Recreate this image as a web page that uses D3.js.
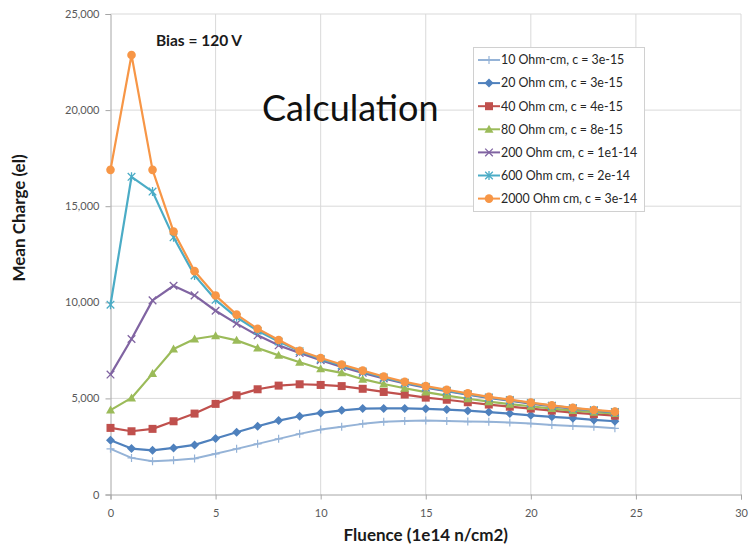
<!DOCTYPE html>
<html>
<head>
<meta charset="utf-8">
<script src="https://cdn.jsdelivr.net/npm/d3@7"></script>
<style>
  html, body { margin: 0; padding: 0; background: #fff; }
  svg { display: block; font-family: Lato, "Open Sans", sans-serif; }
</style>
</head>
<body>
<svg id="chart" width="749" height="547"></svg>
<script>
// Fluence steps (1e14 n/cm2)
const fluence = d3.range(0, 25);

const seriesNames = [
  "10 Ohm-cm, c = 3e-15",
  "20 Ohm cm, c = 3e-15",
  "40 Ohm cm, c = 4e-15",
  "80 Ohm cm, c = 8e-15",
  "200 Ohm cm, c = 1e1-14",
  "600 Ohm cm, c = 2e-14",
  "2000 Ohm cm, c = 3e-14"
];

// Mean charge (electrons) per fluence step
const q10 = [2375,1905,1730,1785,1870,2115,2375,2635,2895,3155,3380,3520,3675,3780,3830,3845,3830,3795,3780,3740,3690,3620,3570,3520,3445];
const q20 = [2820,2390,2300,2425,2580,2910,3240,3550,3845,4070,4245,4380,4470,4480,4480,4460,4420,4360,4290,4210,4120,4040,3970,3880,3810];
const q40 = [3465,3290,3415,3810,4210,4715,5160,5475,5665,5735,5700,5640,5500,5335,5200,5040,4930,4800,4680,4570,4470,4365,4260,4180,4100];
const q80 = [4390,5025,6290,7570,8090,8260,8020,7620,7240,6880,6540,6330,6000,5750,5530,5330,5145,4980,4830,4700,4590,4470,4365,4280,4210];
const q200 = [6240,8090,10100,10860,10360,9560,8890,8280,7760,7360,6990,6640,6330,6040,5780,5560,5370,5190,5020,4880,4730,4600,4470,4370,4270];
const q600 = [9875,16530,15760,13380,11400,10130,9220,8520,7960,7450,7050,6710,6400,6090,5820,5600,5400,5220,5050,4910,4760,4620,4490,4380,4290];
const q2000 = [16890,22870,16890,13680,11620,10350,9360,8620,8040,7480,7100,6760,6445,6140,5860,5640,5450,5260,5080,4940,4780,4640,4505,4400,4310];

const seriesValues = [q10, q20, q40, q80, q200, q600, q2000];
const seriesColors = ["#95b3d7", "#4f81bd", "#c0504d", "#9bbb59", "#8064a2", "#4bacc6", "#f79646"];
const seriesMarkers = ["plus", "diamond", "square", "triangle", "cross", "star", "circle"];

const xTicks = [0, 5, 10, 15, 20, 25, 30];
const yTicks = [0, 5000, 10000, 15000, 20000, 25000];

const svg = d3.select("#chart");
const plot = { left: 110.5, right: 741, top: 14, bottom: 494.5 };

const x = d3.scaleLinear().domain([0, 30]).range([plot.left, plot.right]);
const y = d3.scaleLinear().domain([0, 25000]).range([plot.bottom, plot.top]);

// Gridlines
const grid = svg.append("g");
grid.selectAll("line.h").data(yTicks.filter(d => d > 0)).join("line")
  .attr("x1", plot.left).attr("x2", plot.right)
  .attr("y1", d => y(d)).attr("y2", d => y(d))
  .attr("stroke", "#d9d9d9").attr("stroke-width", 1);
grid.selectAll("line.v").data(xTicks.filter(d => d > 0)).join("line")
  .attr("x1", d => x(d)).attr("x2", d => x(d))
  .attr("y1", plot.top).attr("y2", plot.bottom)
  .attr("stroke", "#d9d9d9").attr("stroke-width", 1);

// Axes
const fmt = d3.format(",");
const xAxis = svg.append("g").attr("transform", `translate(0,${plot.bottom})`)
  .call(d3.axisBottom(x).tickValues(xTicks).tickSize(5).tickPadding(10));
const yAxis = svg.append("g").attr("transform", `translate(${plot.left},0)`)
  .call(d3.axisLeft(y).tickValues(yTicks).tickFormat(fmt).tickSize(5).tickPadding(6));
[xAxis, yAxis].forEach(g => {
  g.select(".domain").attr("stroke", "#a6a6a6");
  g.selectAll(".tick line").attr("stroke", "#a6a6a6");
  g.selectAll(".tick text").attr("fill", "#595959")
    .style("font-family", "Lato, 'Open Sans', sans-serif").style("font-size", "11px");
});

// Marker shapes
function drawMarker(g, type, color, cx, cy) {
  const s = g.append("g").attr("transform", `translate(${cx},${cy})`);
  switch (type) {
    case "plus":
      s.append("path").attr("d", "M-4,0H4M0,-4V4").attr("stroke", color).attr("stroke-width", 1.2).attr("fill", "none");
      break;
    case "diamond":
      s.append("path").attr("d", "M0,-4.5L4.5,0L0,4.5L-4.5,0Z").attr("fill", color);
      break;
    case "square":
      s.append("rect").attr("x", -4).attr("y", -4).attr("width", 8).attr("height", 8).attr("fill", color);
      break;
    case "triangle":
      s.append("path").attr("d", "M0,-4.5L4.5,3.5L-4.5,3.5Z").attr("fill", color);
      break;
    case "cross":
      s.append("path").attr("d", "M-3.8,-3.8L3.8,3.8M-3.8,3.8L3.8,-3.8").attr("stroke", color).attr("stroke-width", 1.3).attr("fill", "none");
      break;
    case "star":
      s.append("path").attr("d", "M-3.8,-3.8L3.8,3.8M-3.8,3.8L3.8,-3.8M0,-4.5V4.5").attr("stroke", color).attr("stroke-width", 1.3).attr("fill", "none");
      break;
    case "circle":
      s.append("circle").attr("r", 4.3).attr("fill", color);
      break;
  }
}

// Series lines and markers
const line = d3.line().x((d, i) => x(fluence[i])).y(d => y(d));
const series = svg.append("g");
seriesValues.forEach((vals, k) => {
  const g = series.append("g");
  g.append("path").datum(vals).attr("d", line)
    .attr("fill", "none").attr("stroke", seriesColors[k])
    .attr("stroke-width", k === 0 ? 2 : 2.2).attr("stroke-linejoin", "round");
  vals.forEach((v, i) => drawMarker(g, seriesMarkers[k], seriesColors[k], x(fluence[i]), y(v)));
});

// Annotations
svg.append("text").attr("x", 156).attr("y", 46)
  .attr("font-size", 15.5).attr("font-weight", "bold").attr("fill", "#1a1a1a")
  .text("Bias = 120 V");
svg.append("text").attr("x", 262).attr("y", 121)
  .attr("font-size", 36).attr("fill", "#111")
  .text("Calculation");

// Axis titles
svg.append("text").attr("x", (plot.left + plot.right) / 2).attr("y", 541)
  .attr("text-anchor", "middle").attr("font-size", 17).attr("font-weight", "bold").attr("fill", "#1a1a1a")
  .text("Fluence (1e14 n/cm2)");
svg.append("text").attr("transform", "translate(25,218) rotate(-90)")
  .attr("text-anchor", "middle").attr("font-size", 17).attr("font-weight", "bold").attr("fill", "#1a1a1a")
  .text("Mean Charge (el)");

// Legend
const legend = svg.append("g");
legend.append("rect").attr("x", 473.5).attr("y", 47.5).attr("width", 171).attr("height", 164)
  .attr("fill", "#fff").attr("stroke", "#d0d0d0");
seriesNames.forEach((name, k) => {
  const ly = 60 + k * 23.1;
  const g = legend.append("g");
  g.append("line").attr("x1", 478).attr("x2", 500).attr("y1", ly).attr("y2", ly)
    .attr("stroke", seriesColors[k]).attr("stroke-width", 2);
  drawMarker(g, seriesMarkers[k], seriesColors[k], 489, ly);
  g.append("text").attr("x", 501).attr("y", ly + 4.3)
    .attr("font-size", 12.4).attr("fill", "#262626").text(name);
});
</script>
</body>
</html>
